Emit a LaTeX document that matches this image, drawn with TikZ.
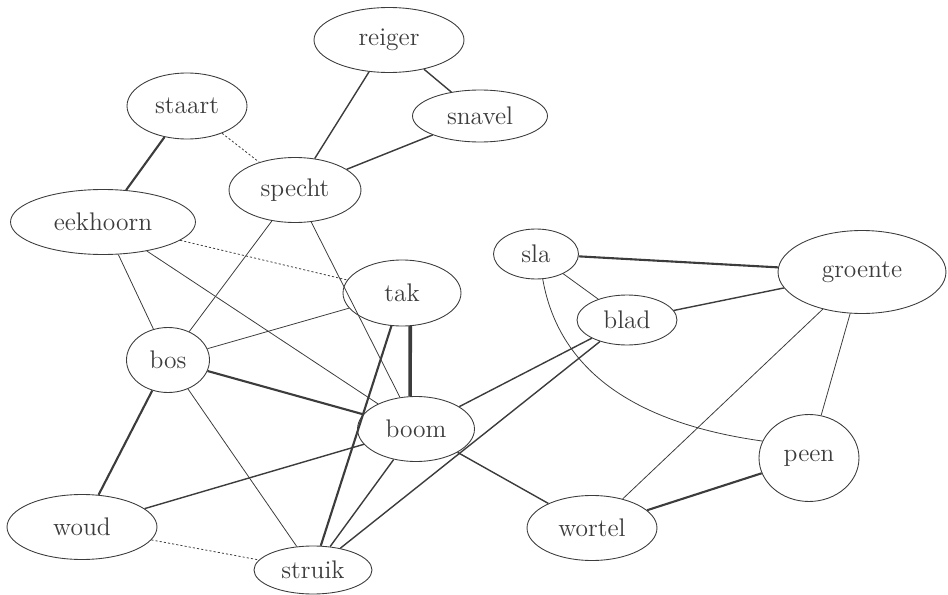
\documentclass[tikz,border=0pt]{standalone}
\usetikzlibrary{shapes.geometric}
\definecolor{ink}{HTML}{3C3C3C}
\begin{document}
\begin{tikzpicture}[x=0.02cm,y=-0.02cm,
    every node/.style={ellipse, draw=ink, line width=0.5pt, inner sep=0pt,
          font=\fontsize{14.5}{17}\selectfont, text=ink},
    word/.style 2 args={minimum width=#1cm, minimum height=#2cm},
    weak/.style={draw=ink, line width=0.45pt},
    mid/.style={draw=ink, line width=0.8pt},
    strong/.style={draw=ink, line width=1.2pt},
    heavy/.style={draw=ink, line width=2pt},
    hint/.style={draw=ink, line width=0.45pt, dash pattern=on 1.2pt off 1.2pt}]
    \useasboundingbox (0,0) rectangle (948,595);
    % words
    \node[word={3.0}{1.3}]   (reiger)   at (389,40)  {reiger};
    \node[word={2.7}{1.04}]  (snavel)   at (480,116) {snavel};
    \node[word={2.4}{1.32}]  (staart)   at (187,106) {staart};
    \node[word={2.64}{1.3}]  (specht)   at (295,190) {specht};
    \node[word={3.7}{1.3}]   (eekhoorn) at (103,222) {eekhoorn};
    \node[word={2.36}{1.32}] (tak)      at (402,293) {tak};
    \node[word={1.7}{1.0}]   (sla)      at (536,254) {sla};
    \node[word={2.0}{1.0}]   (blad)     at (627,320) {blad};
    \node[word={3.36}{1.66}] (groente)  at (862,272) {groente};
    \node[word={1.66}{1.3}]  (bos)      at (168,360) {bos};
    \node[word={2.34}{1.3}]  (boom)     at (416,429) {boom};
    \node[word={2.0}{1.74}]  (peen)     at (809,458) {peen};
    \node[word={3.0}{1.3}]   (woud)     at (82,527)  {woud};
    \node[word={2.6}{1.3}]   (wortel)   at (592,528) {wortel};
    \node[word={2.36}{0.96}] (struik)   at (313,570) {struik};
    % links
    \foreach \a/\b in {eekhoorn/bos, eekhoorn/boom, specht/bos, specht/boom,
        bos/tak, bos/struik, sla/blad, groente/wortel, groente/peen}
      \draw[weak] (\a) -- (\b);
    \foreach \a/\b in {reiger/specht, reiger/snavel, snavel/specht, boom/woud,
        boom/struik, boom/blad, boom/wortel, struik/blad, blad/groente}
      \draw[mid] (\a) -- (\b);
    \foreach \a/\b in {staart/eekhoorn, bos/woud, tak/struik, sla/groente,
        wortel/peen, bos/boom}
      \draw[strong] (\a) -- (\b);
    \draw[heavy] (tak.-76) -- (boom.100);
    \foreach \a/\b in {staart/specht, eekhoorn/tak, woud/struik}
      \draw[hint] (\a) -- (\b);
    \draw[weak] (sla.-75) to[out=-80, in=172] (peen.160);
  \end{tikzpicture}
\end{document}
